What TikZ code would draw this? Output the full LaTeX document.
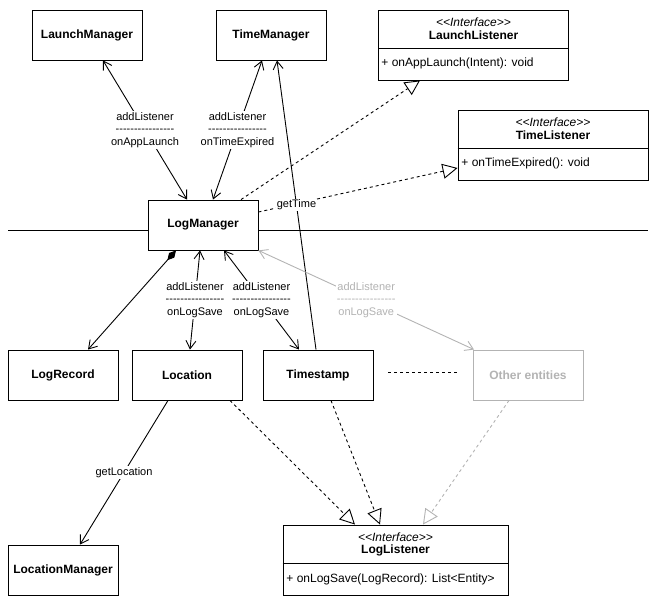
\documentclass[tikz,border=0pt]{standalone}
\usepackage{fontspec}
\setmainfont{Liberation Sans}
\usetikzlibrary{arrows.meta}
\definecolor{lg}{HTML}{B3B3B3}
\newcommand\hh{-\kern0pt}
\newcommand\hrow{\hh\hh\hh\hh\hh\hh\hh\hh\hh\hh\hh\hh\hh\hh\hh\hh}
\newcommand\ster{<\kern0pt<Interface>\kern0pt>}
\begin{document}
\begin{tikzpicture}[x=1pt,y=-1pt, line width=0.9pt,
 box/.style={draw, fill=white, minimum width=110pt, minimum height=50pt, font=\fontsize{12}{14}\selectfont\bfseries, inner sep=0pt},
 ibox/.style={draw, fill=white, minimum height=70pt, inner sep=0pt},
 stt/.style={font=\fontsize{12}{14}\selectfont\itshape, inner sep=0pt},
 iname/.style={font=\fontsize{12}{14}\selectfont\bfseries, inner sep=0pt},
 meth/.style={font=\fontsize{12}{14}\selectfont, inner sep=0pt, anchor=west},
 lbl/.style={fill=white, font=\fontsize{11}{12.5}\selectfont, align=center, inner sep=1pt},
 oa/.style={-{Straight Barb[length=8pt,width=10pt]}},
 boa/.style={{Straight Barb[length=8pt,width=10pt]}-{Straight Barb[length=8pt,width=10pt]}},
 real/.style={dash pattern=on 3pt off 3pt, -{Triangle[open,length=15pt,width=15pt]}},
]
\useasboundingbox (0,0) rectangle (661,604);
% separator line
\coordinate (hl) at (8,230);
\coordinate (hr) at (648,230);
\draw (hl) -- (hr);

% classes
\node[box] (LaM) at (87,35) {LaunchManager};
\node[box] (TM) at (271,35) {TimeManager};
\node[box] (LM) at (203,225) {LogManager};
\node[box] (LR) at (63,375) {LogRecord};
\node[box] (Loc) at (187,375) {Location};
\node[box] (TS) at (318,375) {Timestamp};
\node[box, draw=lg, text=lg] (OE) at (528,375) {Other entities};
\node[box] (LcM) at (63,570) {LocationManager};

% interfaces
\node[ibox, minimum width=190pt] (LL) at (473.5,45) {};
\node[stt] (LLs) at (473.5,22) {\ster};
\node[iname] (LLn) at (473.5,35) {LaunchListener};
\draw (LL.west |- 0,48) -- (LL.east |- 0,48);
\node[meth] (LLm) at (381,63) {+ onAppLaunch(Intent): void};

\node[ibox, minimum width=190pt] (TL) at (553,145) {};
\node[stt] (TLs) at (553,122) {\ster};
\node[iname] (TLn) at (553,135) {TimeListener};
\draw (TL.west |- 0,148) -- (TL.east |- 0,148);
\node[meth] (TLm) at (461,163) {+ onTimeExpired(): void};

\node[ibox, minimum width=225pt] (LgL) at (395.5,560) {};
\node[stt] (LgLs) at (395.5,537) {\ster};
\node[iname] (LgLn) at (395.5,550) {LogListener};
\draw (LgL.west |- 0,563) -- (LgL.east |- 0,563);
\node[meth] (LgLm) at (286,579) {+ onLogSave(LogRecord): List<Entity>};

% connectors
\draw[real] (LM.north -| 241,0) -- (LL.south -| 420,0);
\draw[real] (LM.east |- 0,212) -- (TL.west |- 0,168);
\draw[boa] (LM.north -| 187,0) -- node[lbl]{addListener\\\hrow\\onAppLaunch} (LaM.south -| 103,0);
\draw[boa] (LM.north -| 213,0) -- node[lbl]{addListener\\\hrow\\onTimeExpired} (TM.south -| 262,0);
\draw[oa] (TS.north -| 316,0) -- node[lbl]{getTime} (TM.south -| 277,0);
\draw[{Diamond[length=13pt,width=7pt]}-{Straight Barb[length=8pt,width=10pt]}] (LM.south -| 176,0) -- (LR.north -| 88,0);
\draw[boa] (LM.south -| 200,0) -- node[lbl]{addListener\\\hrow\\onLogSave} (Loc.north -| 190,0);
\draw[boa] (LM.south -| 224,0) -- node[lbl]{addListener\\\hrow\\onLogSave} (TS.north -| 299,0);
\draw[boa, draw=lg] (LM.south east) -- node[lbl, text=lg]{addListener\\\hrow\\onLogSave} (OE.north -| 474,0);
\draw[oa] (Loc.south -| 168,0) -- node[lbl]{getLocation} (LcM.north -| 80,0);
\draw[real] (Loc.south -| 230,0) -- (LgL.north -| 355,0);
\draw[real] (TS.south -| 331,0) -- (LgL.north -| 380,0);
\draw[real, draw=lg] (OE.south -| 509,0) -- (LgL.north -| 423,0);
\draw[dash pattern=on 3pt off 3pt] ([xshift=15pt,yshift=3pt]TS.east) -- ([xshift=-15pt,yshift=3pt]OE.west);
\end{tikzpicture}
\end{document}
